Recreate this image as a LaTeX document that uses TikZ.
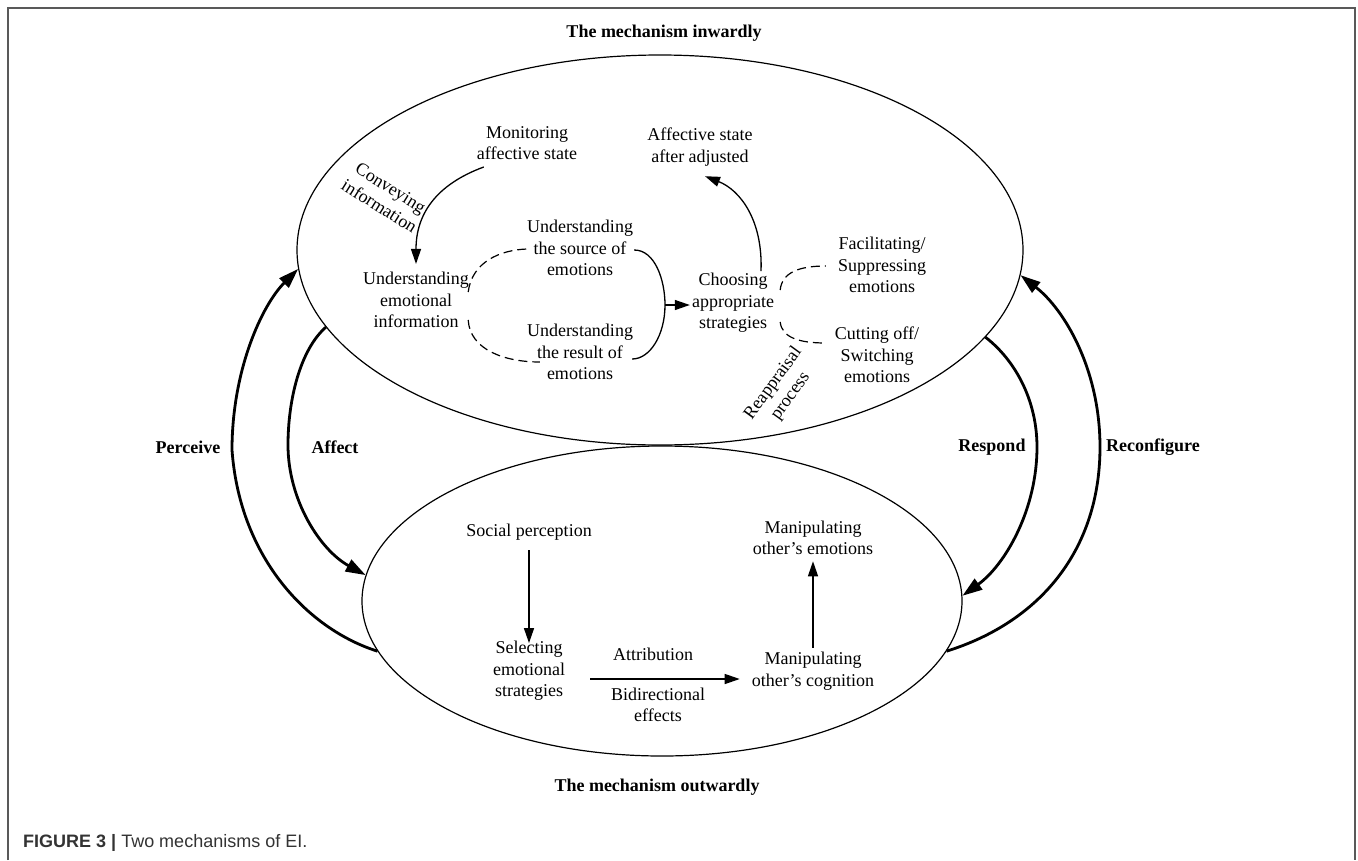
\documentclass[tikz,border=0pt]{standalone}
\usepackage{fontspec}
\setmainfont{Liberation Serif}
\newfontfamily\capfont{Liberation Sans}
\usetikzlibrary{arrows.meta,shapes.geometric}
\begin{document}
\begin{tikzpicture}[x=1pt,y=-1pt,
  lbl/.style={align=center,inner sep=2pt,font=\fontsize{18}{21.5}\selectfont},
  blbl/.style={inner sep=2pt,font=\fontsize{18}{21.5}\selectfont\bfseries},
  oval/.style={draw,ellipse,inner sep=0pt,line width=1.2pt},
  thinarr/.style={line width=1.3pt,-{Triangle[length=15pt,width=10pt]}},
  thickarr/.style={line width=2.8pt,-{Triangle[length=20pt,width=13pt]}},
  dashline/.style={line width=1.2pt,dash pattern=on 9pt off 5pt},
  plainline/.style={line width=1.3pt},
  frameline/.style={line width=1.8pt,draw=black!65}]
\useasboundingbox (0,0) rectangle (1358,860);
% frame
\coordinate (fbl) at (8,860);
\coordinate (ftl) at (8,8);
\coordinate (ftr) at (1355,8);
\coordinate (fbr) at (1355,860);
\draw[frameline] (fbl) -- (ftl) -- (ftr) -- (fbr);
% ellipses
\node[oval,minimum width=726pt,minimum height=390pt] (inw) at (660,250) {};
\node[oval,minimum width=600pt,minimum height=310pt] (outw) at (662,601) {};
% titles
\node[blbl] (tin) at (664,33) {The mechanism inwardly};
\node[blbl] (tout) at (657,787) {The mechanism outwardly};
% inward texts
\node[lbl] (mon) at (527,143) {Monitoring\\affective state};
\node[lbl] (aff) at (700,147) {Affective state\\after adjusted};
\node[lbl,rotate=-32,inner sep=0pt] (conv) at (385,197) {Conveying\\information};
\node[lbl] (uei) at (416,300) {Understanding\\emotional\\information};
\node[lbl] (usrc) at (580,248) {Understanding\\the source of\\emotions};
\node[lbl] (ures) at (580,352) {Understanding\\the result of\\emotions};
\node[lbl] (cho) at (733,303) {Choosing\\appropriate\\strategies};
\node[lbl] (fac) at (882,265) {Facilitating/\\Suppressing\\emotions};
\node[lbl] (cut) at (877,355) {Cutting off/\\Switching\\emotions};
\node[lbl,rotate=54,inner sep=0pt] (reap) at (782,390) {Reappraisal\\process};
% outward texts
\node[lbl] (soc) at (529,532) {Social perception};
\node[lbl] (sel) at (529,671) {Selecting\\emotional\\strategies};
\node[lbl] (attr) at (653,654) {Attribution};
\node[lbl] (bid) at (658,705) {Bidirectional\\effects};
\node[lbl] (mcog) at (813,671) {Manipulating\\other’s cognition};
\node[lbl] (memo) at (813,538) {Manipulating\\other’s emotions};
% side labels
\node[blbl] (perc) at (188,447) {Perceive};
\node[blbl] (affl) at (335,447) {Affect};
\node[blbl] (resp) at (992,447) {Respond};
\node[blbl] (reco) at (1153,447) {Reconfigure};
% caption
\node[anchor=west,inner sep=0pt,text=black!80,font=\capfont\fontsize{18}{20}\selectfont] (cap) at (23,843) {\textbf{FIGURE 3 |} Two mechanisms of EI.};
% inward connectors
\draw[thinarr] ([shift={(9,5)}]mon.south west) .. controls (435,185) and (416,215) .. ([shift={(0,-6)}]uei.north);
\draw[dashline] ([shift={(-3,-8)}]uei.east) .. controls (472,262) and (500,250) .. ([shift={(2,1)}]usrc.west);
\draw[dashline] ([shift={(-3,20)}]uei.east) .. controls (470,350) and (505,362) .. ([shift={(15,10)}]ures.west);
\draw[plainline] ([shift={(-1,2)}]usrc.east) .. controls (655,250) and (665,280) .. (665,305) coordinate (brk) .. controls (665,335) and (650,359) .. ([shift={(-3,7)}]ures.east);
\draw[thinarr] (brk) -- (brk -| cho.west);
\draw[thinarr] ([shift={(28,0)}]cho.north) .. controls (763,220) and (740,190) .. ([shift={(5,8)}]aff.south);
\draw[dashline] ([shift={(4,-13)}]cho.east) .. controls (782,272) and (800,266) .. ([shift={(-10,1)}]fac.west);
\draw[dashline] ([shift={(4,19)}]cho.east) .. controls (782,338) and (800,343) .. ([shift={(-7,-12)}]cut.west);
% outward connectors
\draw[thinarr] ([shift={(0,8)}]soc.south) -- ([shift={(0,4)}]sel.north);
\draw[thinarr] ([shift={(23,8)}]sel.east) -- ([shift={(-10,8)}]mcog.west);
\draw[thinarr] ([shift={(0,-2)}]mcog.north) -- ([shift={(0,4)}]memo.south);
% big arrows
\draw[thickarr] (outw.190) .. controls (310,630) and (240,560) .. (232,450) .. controls (232,370) and (262,305) .. (inw.183);
\draw[thickarr] (inw.193.5) .. controls (300,350) and (288,400) .. (288,445) .. controls (288,500) and (320,550) .. (outw.175.5);
\draw[thickarr] (inw.345.5) .. controls (1015,360) and (1037,400) .. (1037,447) .. controls (1037,510) and (1005,565) .. (outw.1.7);
\draw[thickarr] (outw.350) .. controls (1040,622) and (1100,550) .. (1100,447) .. controls (1100,370) and (1065,310) .. (inw.356.1);
\end{tikzpicture}
\end{document}
